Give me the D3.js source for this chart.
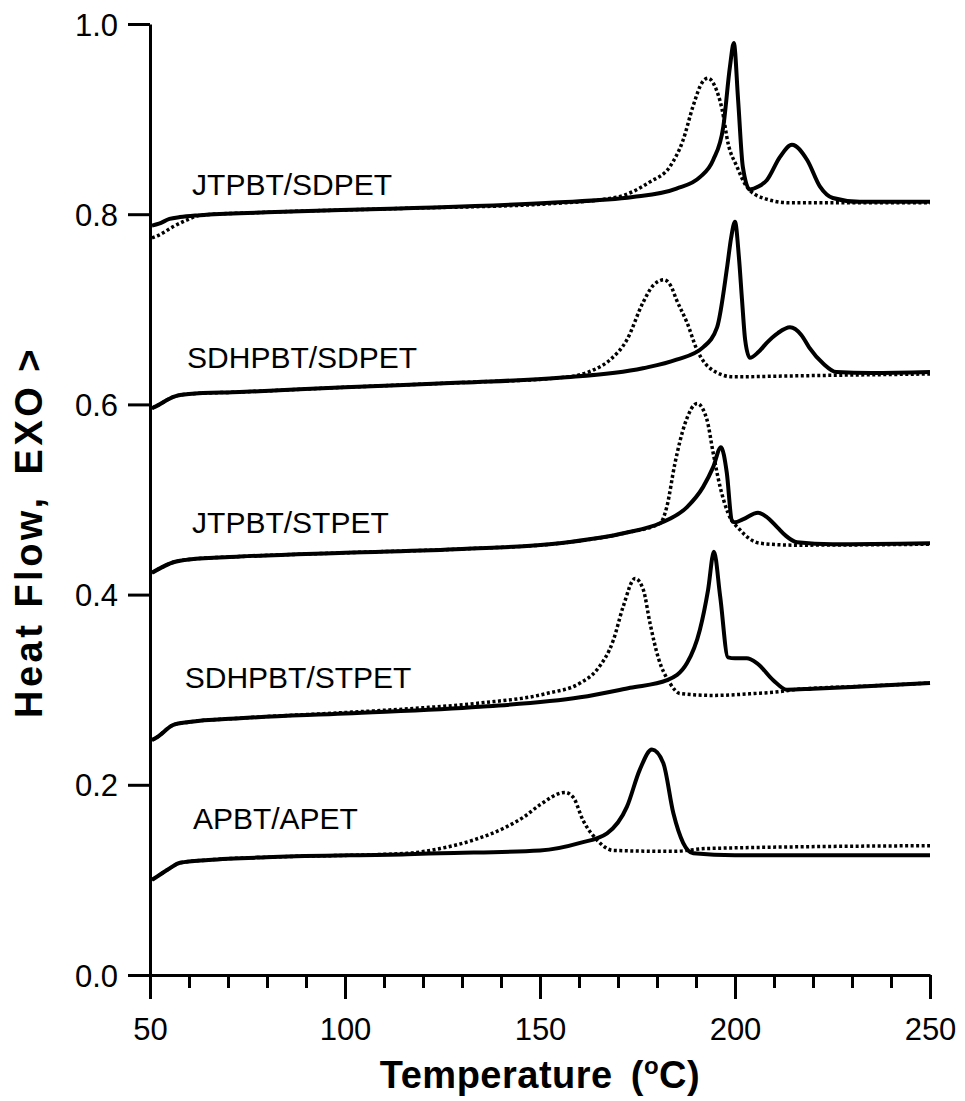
<!DOCTYPE html>
<html>
<head>
<meta charset="utf-8">
<script src="https://cdn.jsdelivr.net/npm/d3@7"></script>
<style>
  html, body { margin: 0; padding: 0; background: #fff; }
  svg { display: block; }
  text { font-family: "Liberation Sans", Arial, Helvetica, sans-serif; fill: #000; }
</style>
</head>
<body>
<svg id="chart" width="965" height="1101"></svg>
<script>
// ---- Data (Temperature °C, Heat Flow) ----
const seriesNames = ["JTPBT/SDPET", "SDHPBT/SDPET", "JTPBT/STPET", "SDHPBT/STPET", "APBT/APET"];

const jtSdSolid = [[50.5,0.788],[52.3,0.790],[55,0.795],[57.7,0.797],[62.8,0.799],[80,0.802],[114,0.806],[152.6,0.812],[173.8,0.818],[185,0.827],[191,0.839],[194.4,0.857],[197,0.892],[198.7,0.955],[199.7,0.980],[200.8,0.920],[202,0.850],[203.8,0.826],[206,0.829],[208.2,0.836],[211.5,0.860],[214.6,0.873],[218.5,0.857],[221.8,0.829],[225.1,0.817],[232,0.813],[250,0.813]];
const jtSdDotted = [[50.5,0.775],[52.3,0.778],[56,0.787],[59.5,0.794],[63,0.799],[80,0.802],[114,0.806],[152.6,0.811],[169.7,0.818],[178.2,0.834],[183.3,0.850],[186.7,0.878],[189.2,0.913],[191.5,0.938],[193.1,0.943],[194.9,0.934],[196.7,0.910],[198.2,0.875],[200.5,0.850],[203,0.829],[207.2,0.817],[214.1,0.812],[250,0.812]];

const sdhSdSolid = [[50.5,0.596],[52,0.599],[56,0.608],[60,0.611],[73,0.613],[100,0.618],[130,0.623],[155,0.628],[176.4,0.638],[185,0.647],[191.8,0.660],[195.4,0.681],[198,0.745],[199,0.775],[200,0.792],[201,0.755],[201.8,0.710],[202.6,0.668],[203.8,0.649],[206,0.655],[208.2,0.665],[211,0.675],[214.1,0.681],[217,0.673],[219,0.660],[222.6,0.643],[226,0.634],[235,0.633],[250,0.634]];
const sdhSdDotted = [[50.5,0.596],[52,0.599],[56,0.608],[60,0.611],[73,0.613],[100,0.618],[130,0.623],[155,0.628],[160,0.631],[163.6,0.636],[168,0.647],[172.3,0.668],[176.4,0.707],[179,0.725],[181.8,0.731],[183.5,0.725],[185,0.710],[187.7,0.686],[190.3,0.657],[193.6,0.638],[199.5,0.629],[215,0.630],[250,0.632]];

const jtStSolid = [[50.5,0.423],[51.8,0.426],[56,0.434],[60,0.437],[73,0.440],[100,0.444],[130,0.448],[155,0.454],[172,0.465],[180.8,0.475],[187.7,0.492],[191.8,0.513],[194.4,0.534],[196.4,0.555],[197.9,0.528],[199.2,0.478],[200,0.476],[202,0.479],[205.9,0.486],[208,0.482],[210.8,0.471],[213,0.462],[215.9,0.455],[225,0.453],[250,0.454]];
const jtStDotted = [[50.5,0.423],[51.8,0.426],[56,0.434],[60,0.437],[73,0.440],[100,0.444],[130,0.448],[155,0.454],[172,0.465],[180.8,0.475],[182.5,0.492],[184.6,0.538],[187.2,0.580],[190.3,0.601],[192.8,0.584],[194.4,0.549],[196.2,0.513],[198.2,0.486],[201.3,0.468],[206.4,0.454],[215,0.452],[250,0.453]];

const sdhStSolid = [[50.5,0.247],[51.8,0.250],[56,0.263],[60,0.266],[73,0.270],[100,0.275],[134.6,0.282],[160.3,0.292],[173.1,0.302],[182.6,0.310],[187.7,0.328],[191,0.363],[193.1,0.405],[194.6,0.445],[196.2,0.398],[198.2,0.334],[200,0.333],[203,0.333],[205.6,0.328],[209.8,0.310],[213.3,0.300],[220,0.301],[235,0.304],[250,0.307]];
const sdhStDotted = [[50.5,0.247],[51.8,0.250],[56,0.263],[60,0.266],[73,0.270],[100,0.276],[120,0.281],[134.6,0.286],[151.7,0.296],[160.3,0.307],[164.6,0.321],[168.8,0.352],[171.3,0.387],[174.4,0.417],[176.5,0.405],[178.2,0.370],[180.3,0.334],[183.3,0.307],[185.9,0.296],[194.4,0.294],[205,0.296],[211.5,0.298],[215,0.300],[235,0.304],[250,0.307]];

const apSolid = [[50.5,0.100],[52,0.104],[55,0.112],[57.7,0.118],[65,0.121],[81.5,0.124],[116,0.127],[124.4,0.128],[150,0.131],[160.3,0.139],[167.2,0.149],[172.3,0.177],[175.6,0.216],[178.7,0.237],[181.6,0.223],[184.2,0.170],[186.7,0.139],[189.3,0.128],[200,0.126],[250,0.126]];
const apDotted = [[50.5,0.100],[52,0.104],[55,0.112],[57.7,0.118],[65,0.121],[81.5,0.124],[116,0.128],[124.4,0.133],[133,0.142],[141.5,0.156],[145.8,0.166],[150,0.179],[156.4,0.192],[158.5,0.187],[161,0.163],[164.6,0.142],[168.8,0.131],[184.2,0.130],[192.8,0.133],[250,0.136]];

const labelPos = [[60.8,0.820],[59.5,0.638],[60.8,0.465],[58.9,0.302],[61.0,0.154]]; // [T, y] of label baselines
const yTicks = [0.0, 0.2, 0.4, 0.6, 0.8, 1.0];
const xMajorTicks = [50, 100, 150, 200, 250];
const xMinorTicks = d3.range(60, 250, 10).filter(v => v % 50 !== 0);

// ---- Layout ----
const svg = d3.select("#chart");
const x = d3.scaleLinear().domain([50, 250]).range([150, 930]);
const y = d3.scaleLinear().domain([0, 1]).range([975, 24]);

const line = d3.line().x(d => x(d[0])).y(d => y(d[1])).curve(d3.curveMonotoneX);

const solids = [jtSdSolid, sdhSdSolid, jtStSolid, sdhStSolid, apSolid];
const dotteds = [jtSdDotted, sdhSdDotted, jtStDotted, sdhStDotted, apDotted];

// curves
svg.append("g").selectAll("path.dot").data(dotteds).join("path")
  .attr("d", line).attr("fill", "none").attr("stroke", "#000")
  .attr("stroke-width", 3.5).attr("stroke-dasharray", "3,2.5");
svg.append("g").selectAll("path.sol").data(solids).join("path")
  .attr("d", line).attr("fill", "none").attr("stroke", "#000")
  .attr("stroke-width", 4).attr("stroke-linejoin", "round");

// axes
const yAxis = d3.axisLeft(y).tickValues(yTicks).tickFormat(d3.format(".1f"))
  .tickSize(22).tickSizeOuter(0).tickPadding(10);
const gy = svg.append("g").attr("transform", "translate(150,0)").call(yAxis);
gy.selectAll("text").style("font-size", "31px").attr("dy", "0.36em");

const xAxisMinor = d3.axisBottom(x).tickValues(xMinorTicks).tickFormat("").tickSize(13).tickSizeOuter(0);
svg.append("g").attr("transform", "translate(0,975)").call(xAxisMinor)
  .call(g => g.select(".domain").remove());
const xAxis = d3.axisBottom(x).tickValues(xMajorTicks).tickFormat(d3.format("d"))
  .tickSize(24).tickSizeOuter(0).tickPadding(19);
const gx = svg.append("g").attr("transform", "translate(0,975)").call(xAxis);
gx.selectAll("text").style("font-size", "31px");

svg.selectAll(".domain, .tick line").attr("stroke", "#000").attr("stroke-width", 3);
svg.selectAll(".tick text").attr("fill", "#000");

// series labels
svg.append("g").selectAll("text").data(seriesNames).join("text")
  .attr("x", (d, i) => x(labelPos[i][0]))
  .attr("y", (d, i) => y(labelPos[i][1]))
  .style("font-size", "30px")
  .text(d => d);

// axis titles
const xt = svg.append("text").attr("x", 540).attr("y", 1088)
  .attr("text-anchor", "middle").style("font-size", "38px").style("font-weight", "bold")
  .style("letter-spacing", "0.5px");
xt.append("tspan").text("Temperature");
xt.append("tspan").attr("dx", 18).text("(");
xt.append("tspan").attr("dy", -14).style("font-size", "24px").text("o");
xt.append("tspan").attr("dy", 14).text("C)");

const yt = svg.append("text")
  .attr("transform", "translate(42,532) rotate(-90)")
  .attr("text-anchor", "middle").style("font-size", "38px").style("font-weight", "bold")
  .style("letter-spacing", "3.5px");
yt.append("tspan").text("Heat Flow,");
yt.append("tspan").attr("dx", 20).text("EXO");
yt.append("tspan").attr("dx", 12).text(">");
</script>
</body>
</html>
